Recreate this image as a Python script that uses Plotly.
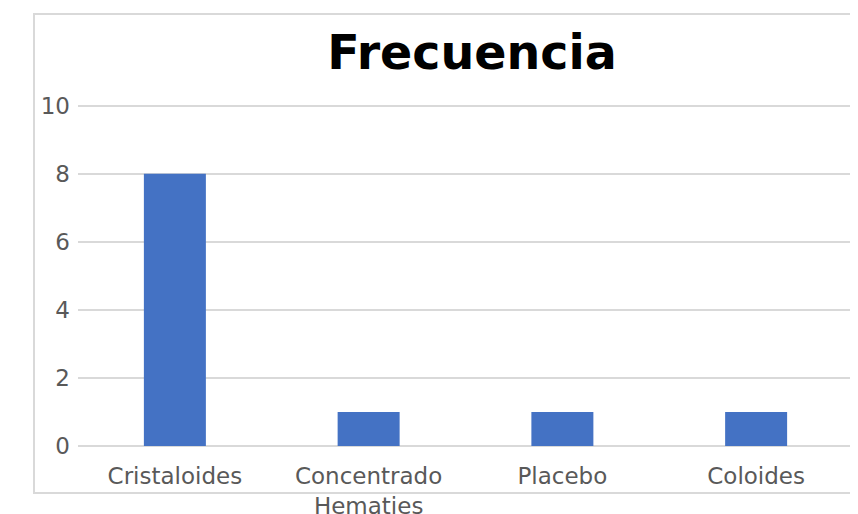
import plotly.graph_objects as go

categories = ["Cristaloides", "Concentrado<br>Hematies", "Placebo", "Coloides"]
values = [8, 1, 1, 1]
y_ticks = [0, 2, 4, 6, 8, 10]
title_text = "Frecuencia"

# page body adds an 8px offset; figure sized/placed to compensate
W, H = 850, 506
L, R, T, B = 70, 5, 96, 68
YMAX = 10.05

fig = go.Figure(go.Bar(x=categories, y=values, marker_color="#4472c4",
                       marker_line_width=0))

pw, ph = W - L - R, H - T - B
fig.update_layout(
    width=W, height=H,
    margin=dict(l=L, r=R, t=T, b=B, autoexpand=False),
    paper_bgcolor="white", plot_bgcolor="white",
    bargap=0.68,
    showlegend=False,
    font=dict(family="DejaVu Sans", color="#595959", size=23),
    title=dict(text="<b>" + title_text + "</b>", x=464 / W, xanchor="center",
               y=1 - 61 / H, yanchor="bottom",
               font=dict(family="DejaVu Sans", size=47.5, color="black")),
    shapes=[dict(type="rect", xref="paper", yref="paper",
                 x0=(26 - L) / pw, x1=(848 - L) / pw,
                 y0=(H - B - 485) / ph, y1=(H - B - 6) / ph,
                 line=dict(color="#d9d9d9", width=2), layer="below")],
)
fig.update_xaxes(showgrid=False, showline=False, ticks="", automargin=False,
                 ticklabelstandoff=14,
                 tickfont=dict(size=23, color="#595959"))
fig.update_yaxes(range=[0, YMAX], tickvals=y_ticks, showgrid=True,
                 automargin=False,
                 gridcolor="#d9d9d9", gridwidth=1.5, zeroline=True,
                 zerolinecolor="#d9d9d9", zerolinewidth=2, showline=False,
                 ticks="", ticklabelstandoff=7,
                 tickfont=dict(size=23, color="#595959"))

fig.write_html("out.html")
